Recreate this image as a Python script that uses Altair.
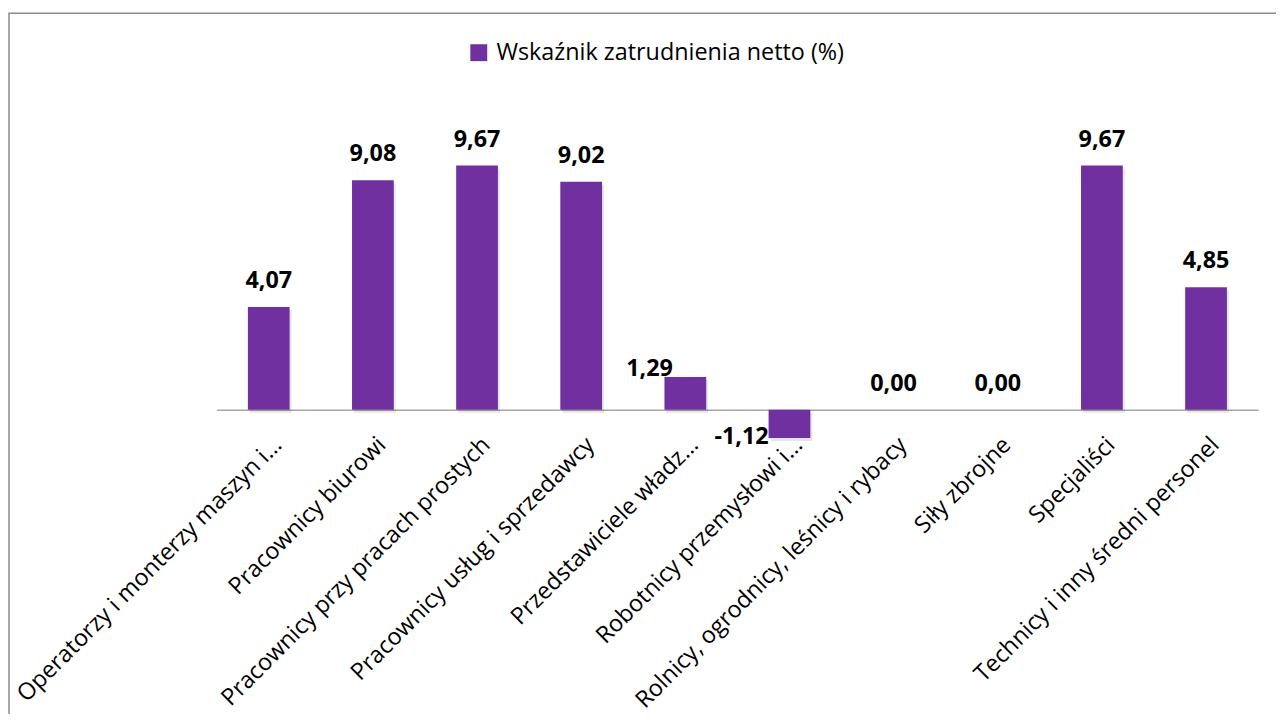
import altair as alt
import pandas as pd

categories = [
    "Operatorzy i monterzy maszyn i…",
    "Pracownicy biurowi",
    "Pracownicy przy pracach prostych",
    "Pracownicy usług i sprzedawcy",
    "Przedstawiciele władz…",
    "Robotnicy przemysłowi i…",
    "Rolnicy, ogrodnicy, leśnicy i rybacy",
    "Siły zbrojne",
    "Specjaliści",
    "Technicy i inny średni personel",
]
values = [4.07, 9.08, 9.67, 9.02, 1.29, -1.12, 0.00, 0.00, 9.67, 4.85]
series_name = "Wskaźnik zatrudnienia netto (%)"

df = pd.DataFrame({"kategoria": categories, "wartosc": values, "seria": series_name})

FONT = "Open Sans"
PURPLE = "#7030A0"
SHIFTED = "Przedstawiciele władz…"

base = alt.Chart(df).transform_calculate(
    etykieta="(datum.wartosc < 0 ? '-' : '') + replace(format(abs(datum.wartosc), '.2f'), '.', ',')"
)

x_enc = alt.X(
    "kategoria:N",
    sort=categories,
    title=None,
    scale=alt.Scale(paddingInner=0.6, paddingOuter=0.3),
    axis=alt.Axis(
        labelAngle=-45,
        labelAlign="right",
        labelBaseline="top",
        labelFont=FONT,
        labelFontSize=23.5,
        labelColor="#000000",
        labelPadding=23,
        labelOffset=1,
        labelLimit=0,
        ticks=False,
        domainColor="#A6A6A6",
        domainWidth=1.5,
        grid=False,
    ),
)
y_enc = alt.Y("wartosc:Q", scale=alt.Scale(domain=[0, 12]), axis=None)

shadow = base.mark_bar(size=42, color="#000000", opacity=0.10, xOffset=2, yOffset=3).encode(
    x=x_enc, y=y_enc
)

bars = base.mark_bar(size=42).encode(
    x=x_enc,
    y=y_enc,
    color=alt.Color(
        "seria:N",
        scale=alt.Scale(range=[PURPLE]),
        legend=alt.Legend(
            title=None,
            orient="none",
            legendX=252,
            legendY=-66,
            symbolType="square",
            symbolSize=289,
            symbolStrokeWidth=0,
            labelFont=FONT,
            labelFontSize=23.5,
            labelColor="#000000",
            labelOffset=6,
            padding=0,
            labelLimit=0,
        ),
    ),
)

text_style = dict(font=FONT, fontSize=23.5, fontWeight="bold", color="#000000", baseline="alphabetic")

text_pos = base.transform_filter(
    f"datum.wartosc >= 0 && datum.kategoria != '{SHIFTED}'"
).mark_text(dy=-19, **text_style).encode(x=x_enc, y=y_enc, text="etykieta:N")

text_shift = base.transform_filter(
    f"datum.kategoria == '{SHIFTED}'"
).mark_text(dx=-36, dy=-1, **text_style).encode(x=x_enc, y=y_enc, text="etykieta:N")

text_neg = base.transform_filter("datum.wartosc < 0").mark_text(
    align="right", dx=-21, dy=6, **text_style
).encode(x=x_enc, y=y_enc, text="etykieta:N")

border = alt.Chart(pd.DataFrame({"r": [0]})).mark_rect(
    fill=None, stroke="#8C8C8C", strokeWidth=1.5
).encode(
    x=alt.value(-209), y=alt.value(-94), x2=alt.value(1200), y2=alt.value(800)
)

chart = alt.layer(border, shadow, bars, text_pos, text_shift, text_neg).properties(
    width=1048,
    height=305,
    autosize="none",
    padding={"left": 210, "top": 97, "right": 18, "bottom": 304},
).configure_view(stroke=None)

chart.save("out.html", embed_options={"renderer": "svg", "actions": False})
